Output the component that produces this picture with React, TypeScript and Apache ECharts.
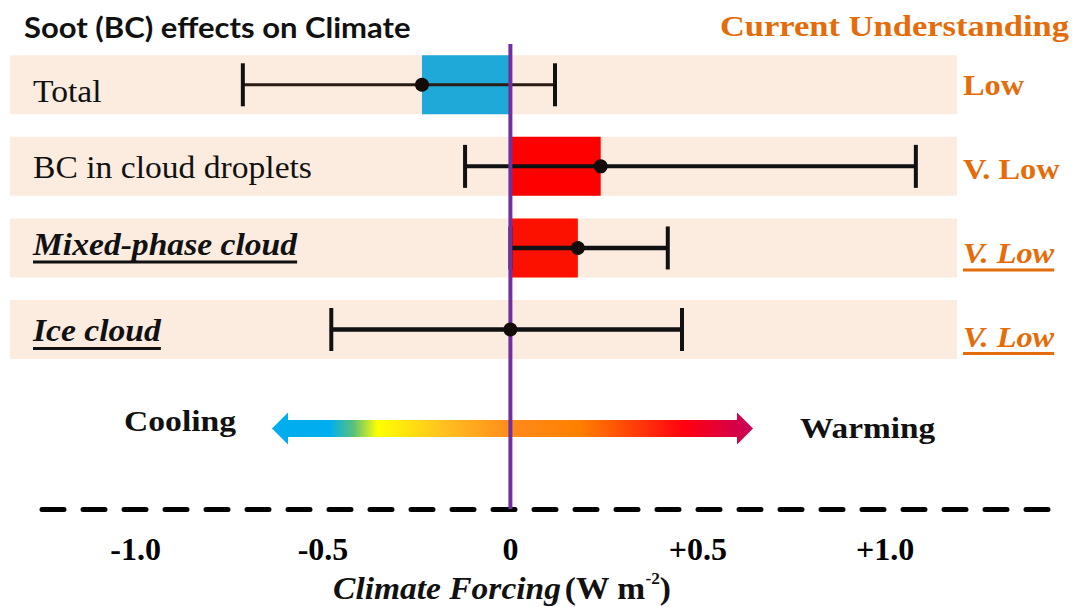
import React, { useEffect, useRef } from "react";
import * as echarts from "echarts";

// ---------- data ----------
const categories = ["Total", "BC in cloud droplets", "Mixed-phase cloud", "Ice cloud"];
const bestEstimate = [-0.236, 0.241, 0.18, 0];
const lowerBound = [-0.714, -0.121, 0, -0.478];
const upperBound = [0.119, 1.082, 0.42, 0.458];
const understanding = ["Low", "V. Low", "V. Low", "V. Low"];
const newProcess = [false, false, true, true]; // italic + underlined rows
const tickValues = [-1, -0.5, 0, 0.5, 1];
const tickLabels = ["-1.0", "-0.5", "0", "+0.5", "+1.0"];

// ---------- styles ----------
const SERIF = "'Times New Roman', 'Liberation Serif', serif";
const SANS = "Lato, 'Noto Sans', sans-serif";
const ORANGE = "#e46c0a";
const BAND = "#fcebdf";
const barColors = ["#1fa9d8", "#ff0000", "#fc1000", "#ff0000"];
const errWidths = [3, 4, 4.5, 4.5];
const labelShift = [6, 1, -4, 1];
const confShift = [0, 3, 5, 7];
const LABEL_SX = 1.05;
const CONF_SX = 1.08;

let measureCtx: CanvasRenderingContext2D | null = null;
function measure(text: string, font: string): number {
  if (!measureCtx) measureCtx = document.createElement("canvas").getContext("2d");
  if (!measureCtx) return text.length * 14;
  measureCtx.font = font;
  return measureCtx.measureText(text).width;
}

export default function App() {
  const ref = useRef<HTMLDivElement>(null);

  useEffect(() => {
    if (!ref.current) return;
    const chart = echarts.init(ref.current, undefined, { renderer: "svg" });

    const rowData = categories.map((_, i) => [0, i + 0.5, i]);

    const renderBand = (params: any, api: any) => {
      const i = api.value(2);
      const y = api.coord([0, api.value(1)])[1];
      const emph = newProcess[i];
      const labelFontSize = 32;
      const labelWeight = emph ? "bold" : "normal";
      const labelStyle = emph ? "italic" : "normal";
      const label = categories[i];
      const lw = measure(label, `${labelStyle} ${labelWeight} ${labelFontSize}px 'Liberation Serif'`) * LABEL_SX;
      const conf = understanding[i];
      const cw = measure(conf, `${labelStyle} bold 30px 'Liberation Serif'`) * CONF_SX;
      const ly = y + labelShift[i];
      const cy = y + confShift[i];
      const children: any[] = [
        { type: "rect", shape: { x: 10, y: y - 29.5, width: 947, height: 59 }, style: { fill: BAND } },
        {
          type: "text",
          x: 33,
          y: ly,
          scaleX: LABEL_SX,
          style: {
            text: label,
            fontFamily: SERIF,
            fontSize: labelFontSize,
            fontWeight: labelWeight,
            fontStyle: labelStyle,
            fill: "#111",
            align: "left",
            verticalAlign: "middle",
          },
        },
        {
          type: "text",
          x: 963,
          y: cy,
          scaleX: CONF_SX,
          style: {
            text: conf,
            fontFamily: SERIF,
            fontSize: 30,
            fontWeight: "bold",
            fontStyle: labelStyle,
            fill: ORANGE,
            align: "left",
            verticalAlign: "middle",
          },
        },
      ];
      if (emph) {
        children.push({
          type: "line",
          shape: { x1: 33, y1: ly + 18, x2: 33 + lw, y2: ly + 18 },
          style: { stroke: "#111", lineWidth: 3 },
        });
        children.push({
          type: "line",
          shape: { x1: 963, y1: cy + 17, x2: 963 + cw, y2: cy + 17 },
          style: { stroke: ORANGE, lineWidth: 3 },
        });
      }
      return { type: "group", children };
    };

    const renderBar = (params: any, api: any) => {
      const i = api.value(2);
      const p0 = api.coord([0, api.value(1)]);
      const p1 = api.coord([api.value(0), api.value(1)]);
      const x = Math.min(p0[0], p1[0]);
      const w = Math.abs(p1[0] - p0[0]);
      return {
        type: "rect",
        shape: { x, y: p0[1] - 29.5, width: w, height: 59 },
        style: { fill: barColors[i] },
      };
    };

    const renderError = (params: any, api: any) => {
      const i = api.value(3);
      const lo = api.coord([api.value(0), api.value(2)]);
      const hi = api.coord([api.value(1), api.value(2)]);
      const y = lo[1];
      const lwid = errWidths[i];
      const stroke = i === 0 ? "#2a1d15" : "#111";
      return {
        type: "group",
        children: [
          { type: "line", shape: { x1: lo[0], y1: y, x2: hi[0], y2: y }, style: { stroke, lineWidth: lwid } },
          { type: "line", shape: { x1: lo[0], y1: y - 21.5, x2: lo[0], y2: y + 21.5 }, style: { stroke: "#111", lineWidth: 4 } },
          { type: "line", shape: { x1: hi[0], y1: y - 21.5, x2: hi[0], y2: y + 21.5 }, style: { stroke: "#111", lineWidth: 4 } },
        ],
      };
    };

    const option: any = {
      animation: false,
      backgroundColor: "#ffffff",
      grid: { left: 42, right: 27, top: 44, bottom: 98, containLabel: false },
      xAxis: {
        type: "value",
        min: -1.25,
        max: 1.44,
        position: "bottom",
        splitLine: { show: false },
        axisTick: { show: false },
        axisLine: {
          show: true,
          onZero: false,
          lineStyle: { color: "#000", width: 5, type: [22, 19] },
        },
        axisLabel: {
          show: true,
          customValues: tickValues,
          margin: 24,
          fontFamily: SERIF,
          fontWeight: "bold",
          fontSize: 32,
          color: "#000",
          formatter: (v: number) => {
            const k = tickValues.findIndex((t) => Math.abs(t - v) < 1e-9);
            return k >= 0 ? tickLabels[k] : "";
          },
        },
      },
      yAxis: {
        type: "value",
        min: 0,
        max: 5.7,
        inverse: true,
        show: false,
      },
      graphic: [
        {
          type: "text",
          x: 24,
          y: 26,
          scaleX: 1.07,
          style: {
            text: "Soot (BC) effects on Climate",
            fontFamily: SANS,
            fontWeight: "bold",
            fontSize: 29,
            fill: "#111",
            align: "left",
            verticalAlign: "middle",
          },
        },
        {
          type: "text",
          x: 1069,
          y: 26,
          scaleX: 1.15,
          style: {
            text: "Current Understanding",
            fontFamily: SERIF,
            fontWeight: "bold",
            fontSize: 30,
            fill: ORANGE,
            align: "right",
            verticalAlign: "middle",
          },
        },
        {
          type: "polygon",
          shape: {
            points: [
              [272, 428.5],
              [288, 412.5],
              [288, 420],
              [737, 420],
              [737, 412.5],
              [753, 428.5],
              [737, 444.5],
              [737, 437],
              [288, 437],
              [288, 444.5],
            ],
          },
          style: {
            fill: new echarts.graphic.LinearGradient(0, 0, 1, 0, [
              { offset: 0, color: "#00aeef" },
              { offset: 0.12, color: "#00aeef" },
              { offset: 0.17, color: "#5cc07a" },
              { offset: 0.22, color: "#ffff00" },
              { offset: 0.36, color: "#ffbf20" },
              { offset: 0.5, color: "#ff8a1a" },
              { offset: 0.64, color: "#ff8000" },
              { offset: 0.86, color: "#ff0010" },
              { offset: 1, color: "#c8005a" },
            ]),
          },
        },
        {
          type: "text",
          x: 124,
          y: 421,
          scaleX: 1.16,
          style: {
            text: "Cooling",
            fontFamily: SERIF,
            fontWeight: "bold",
            fontSize: 29,
            fill: "#111",
            align: "left",
            verticalAlign: "middle",
          },
        },
        {
          type: "text",
          x: 800,
          y: 428,
          scaleX: 1.15,
          style: {
            text: "Warming",
            fontFamily: SERIF,
            fontWeight: "bold",
            fontSize: 29,
            fill: "#111",
            align: "left",
            verticalAlign: "middle",
          },
        },
        {
          type: "text",
          x: 502,
          y: 588,
          scaleX: 1.08,
          style: {
            text: "{a|Climate Forcing} {b|(W m}{c|-2}{b|)}",
            align: "center",
            verticalAlign: "middle",
            rich: {
              a: { fontFamily: SERIF, fontWeight: "bold", fontStyle: "italic", fontSize: 31, fill: "#111", lineHeight: 34 },
              b: { fontFamily: SERIF, fontWeight: "bold", fontSize: 31, fill: "#111", lineHeight: 34 },
              c: { fontFamily: SERIF, fontWeight: "bold", fontSize: 16, fill: "#111", lineHeight: 34, verticalAlign: "top" },
            },
          },
        },
      ],
      series: [
        {
          type: "custom",
          name: "bands",
          z: 1,
          clip: false,
          silent: true,
          renderItem: renderBand,
          encode: { x: 0, y: 1 },
          data: rowData,
        },
        {
          type: "custom",
          name: "forcing",
          z: 2,
          clip: false,
          renderItem: renderBar,
          encode: { x: 0, y: 1 },
          data: bestEstimate.map((v, i) => [v, i + 0.5, i]),
        },
        {
          type: "custom",
          name: "range",
          z: 3,
          clip: false,
          renderItem: renderError,
          encode: { x: [0, 1], y: 2 },
          data: categories.map((_, i) => [lowerBound[i], upperBound[i], i + 0.5, i]),
        },
        {
          type: "line",
          name: "zero",
          z: 4,
          symbol: "none",
          silent: true,
          lineStyle: { color: "#7030a0", width: 4 },
          data: [
            [0, 0],
            [0, 5.7],
          ],
        },
        {
          type: "scatter",
          name: "best",
          z: 5,
          symbol: "circle",
          symbolSize: 14,
          itemStyle: { color: "#140c08", opacity: 1 },
          data: bestEstimate.map((v, i) => [v, i + 0.5]),
        },
      ],
    };

    chart.setOption(option);
    return () => chart.dispose();
  }, []);

  return (
    <div
      ref={ref}
      style={{ position: "fixed", left: 0, top: 0, width: 1077, height: 607, background: "#fff" }}
    />
  );
}
